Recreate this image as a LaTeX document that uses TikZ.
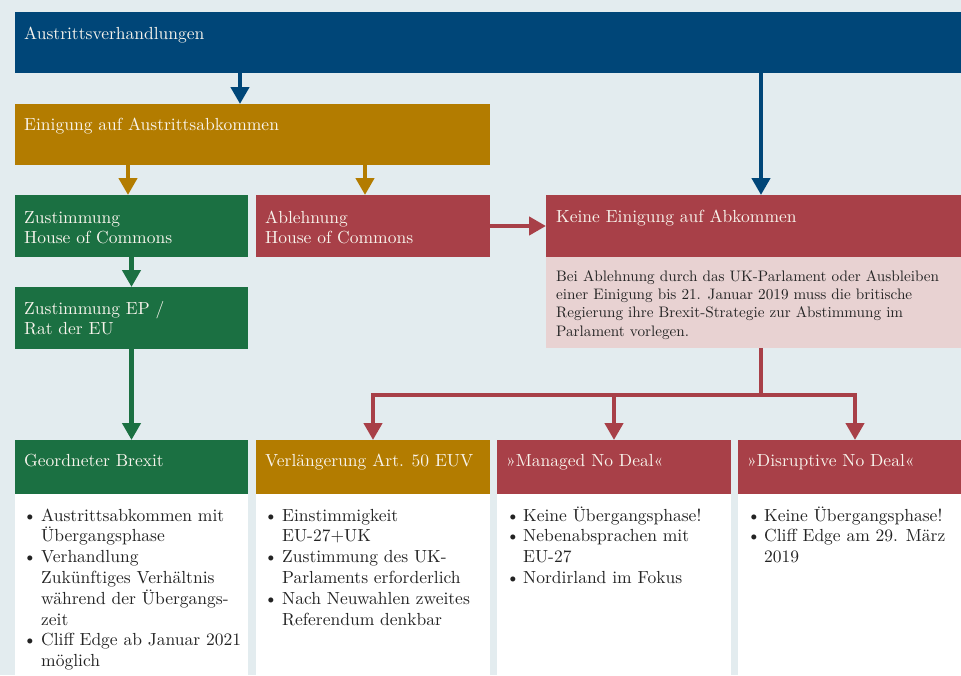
\documentclass[tikz,border=0pt]{standalone}
\usepackage{fontspec}
\setmainfont{lmroman10-regular}[Extension=.otf]
\usetikzlibrary{arrows.meta}
\definecolor{bg}{RGB}{227,236,239}
\definecolor{swpblue}{RGB}{0,70,120}
\definecolor{swpgold}{RGB}{179,124,0}
\definecolor{swpgreen}{RGB}{27,112,66}
\definecolor{swpred}{RGB}{168,64,72}
\definecolor{swppink}{RGB}{232,210,210}
\definecolor{hdrtext}{RGB}{248,244,236}
\definecolor{bodytext}{RGB}{35,35,35}
\begin{document}
\begin{tikzpicture}[x=1pt,y=-1pt,
  box/.style={anchor=north west, inner sep=0pt, outer sep=0pt, draw=none},
  hdrtxt/.style={anchor=base west, inner sep=0pt, text=hdrtext, font=\fontsize{17.5}{20.3}\selectfont},
  pinktxt/.style={anchor=base west, inner sep=0pt, text=bodytext, font=\fontsize{15.2}{18.4}\selectfont},
  bodytxt/.style={anchor=base west, inner sep=0pt, text=bodytext, font=\fontsize{17.5}{20.8}\selectfont},
  conn/.style={line width=4.5pt, line join=miter},
  arr/.style={conn, -{Triangle[width=18pt,length=17pt]}}]
\useasboundingbox (0,0) rectangle (961,675);
\fill[bg] (0,0) rectangle (961,675);
\clip (0,0) rectangle (961,675);

% top row
\node[box, fill=swpblue, minimum width=960pt, minimum height=61pt] (verh) at (15,12) {};
\node[hdrtxt] (verht) at (24,39) {Austrittsverhandlungen};
\node[box, fill=swpgold, minimum width=475pt, minimum height=61pt] (einig) at (15,104) {};
\node[hdrtxt] (einigt) at (24,130) {Einigung auf Austrittsabkommen};

% second row
\node[box, fill=swpgreen, minimum width=233pt, minimum height=62pt] (zhoc) at (15,195) {};
\node[hdrtxt] (zhoct) at (24,223) {\begin{tabular}[t]{@{}l@{}}Zustimmung\\House of Commons\end{tabular}};
\node[box, fill=swpred, minimum width=234pt, minimum height=62pt] (ahoc) at (256,195) {};
\node[hdrtxt] (ahoct) at (265,223) {\begin{tabular}[t]{@{}l@{}}Ablehnung\\House of Commons\end{tabular}};
\node[box, fill=swpred, minimum width=430pt, minimum height=62pt] (keine) at (546,195) {};
\node[hdrtxt] (keinet) at (556,222) {Keine Einigung auf Abkommen};
\node[box, fill=swppink, minimum width=430pt, minimum height=91pt] (pink) at (546,257) {};
\node[pinktxt] (pinkt) at (556,281) {\begin{tabular}[t]{@{}l@{}}Bei Ablehnung durch das UK-Parlament oder Ausbleiben\\einer Einigung bis 21. Januar 2019 muss die britische\\Regierung ihre Brexit-Strategie zur Abstimmung im\\Parlament vorlegen.\end{tabular}};

% third row
\node[box, fill=swpgreen, minimum width=233pt, minimum height=62pt] (zep) at (15,287) {};
\node[hdrtxt] (zept) at (24,314) {\begin{tabular}[t]{@{}l@{}}Zustimmung EP /\\Rat der EU\end{tabular}};

% bottom headers
\node[box, fill=swpgreen, minimum width=233pt, minimum height=54pt] (geo) at (15,440) {};
\node[hdrtxt] (geot) at (24,466) {Geordneter Brexit};
\node[box, fill=swpgold, minimum width=234pt, minimum height=54pt] (verl) at (256,440) {};
\node[hdrtxt] (verlt) at (265,466) {Verlängerung Art. 50 EUV};
\node[box, fill=swpred, minimum width=234pt, minimum height=54pt] (man) at (497,440) {};
\node[hdrtxt] (mant) at (506,466) {»Managed No Deal«};
\node[box, fill=swpred, minimum width=234pt, minimum height=54pt] (disr) at (738,440) {};
\node[hdrtxt] (disrt) at (747,466) {»Disruptive No Deal«};

% bottom bodies
\node[box, fill=white, minimum width=233pt, minimum height=190pt] (geob) at (15,494) {};
\node[box, fill=white, minimum width=234pt, minimum height=190pt] (verlb) at (256,494) {};
\node[box, fill=white, minimum width=234pt, minimum height=190pt] (manb) at (497,494) {};
\node[box, fill=white, minimum width=234pt, minimum height=190pt] (disrb) at (738,494) {};

\node[bodytxt] (geobt) at (23,521) {\begin{tabular}[t]{@{}p{18pt}@{}l@{}}
\textbullet & Austrittsabkommen mit\\
 & Übergangsphase\\
\textbullet & Verhandlung\\
 & Zukünftiges Verhältnis\\
 & während der Übergangs-\\
 & zeit\\
\textbullet & Cliff Edge ab Januar 2021\\
 & möglich\end{tabular}};
\node[bodytxt] (verlbt) at (264,521) {\begin{tabular}[t]{@{}p{18pt}@{}l@{}}
\textbullet & Einstimmigkeit\\
 & EU-27+UK\\
\textbullet & Zustimmung des UK-\\
 & Parlaments erforderlich\\
\textbullet & Nach Neuwahlen zweites\\
 & Referendum denkbar\end{tabular}};
\node[bodytxt] (manbt) at (506,521) {\begin{tabular}[t]{@{}p{17pt}@{}l@{}}
\textbullet & Keine Übergangsphase!\\
\textbullet & Nebenabsprachen mit\\
 & EU-27\\
\textbullet & Nordirland im Fokus\end{tabular}};
\node[bodytxt] (disrbt) at (747,521) {\begin{tabular}[t]{@{}p{17pt}@{}l@{}}
\textbullet & Keine Übergangsphase!\\
\textbullet & Cliff Edge am 29. März\\
 & 2019\end{tabular}};

% connectors
\coordinate (xa) at (240,0);
\coordinate (xb) at (128,0);
\coordinate (xc) at (365,0);
\coordinate (j) at (761,395);
\draw[arr, swpblue] (verh.south -| xa) -- (einig.north -| xa);
\draw[arr, swpblue] (verh.south -| keine.north) -- (keine.north);
\draw[arr, swpgold] (einig.south -| xb) -- (zhoc.north -| xb);
\draw[arr, swpgold] (einig.south -| xc) -- (ahoc.north -| xc);
\draw[arr, swpgreen] (zhoc.south) -- (zep.north);
\draw[arr, swpgreen] (zep.south) -- (geo.north);
\draw[arr, swpred] (ahoc.east) -- (ahoc.east -| keine.west);
\draw[conn, swpred] (pink.south -| j) -- (j);
\draw[arr, swpred] (j) -| (verl.north);
\draw[arr, swpred] (j) -| (disr.north);
\draw[arr, swpred] (man.north |- j) -- (man.north);
\end{tikzpicture}
\end{document}
